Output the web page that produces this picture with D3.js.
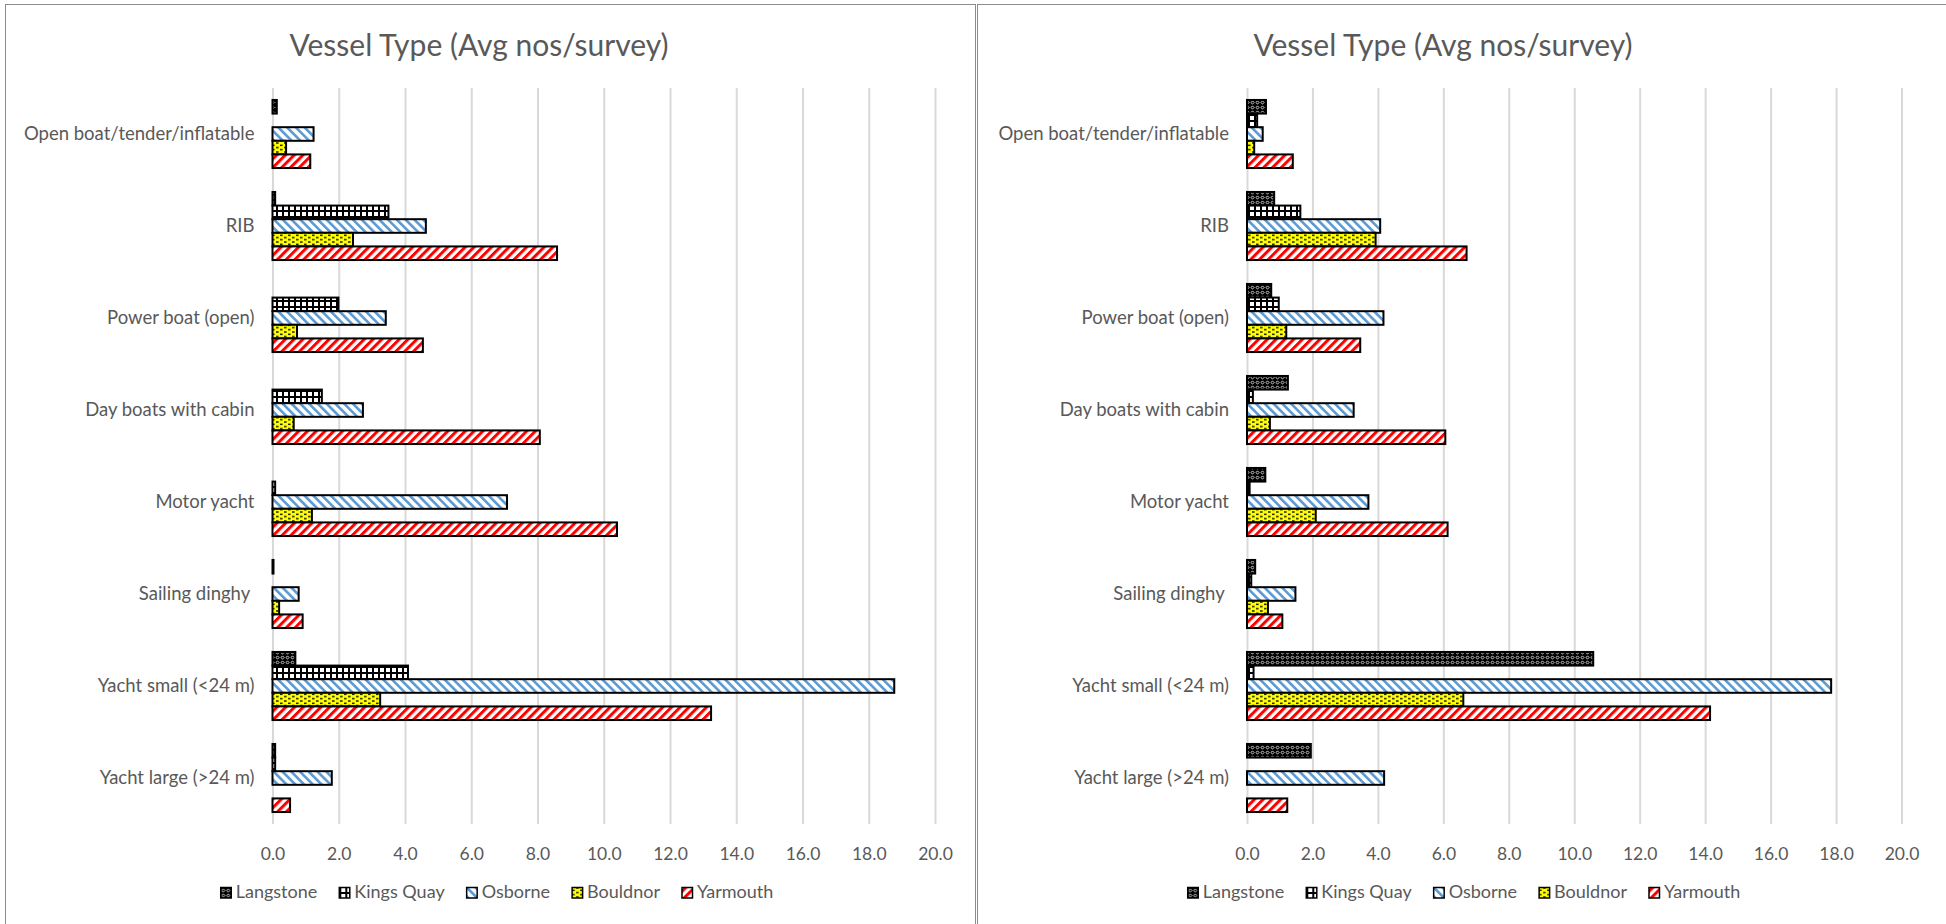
<!DOCTYPE html>
<html lang="en">
<head>
  <meta charset="UTF-8" />
  <title>Vessel Type (Avg nos/survey)</title>
  <style>
    body { margin: 0; background: #ffffff; }
    svg { display: block; }
    .title { font-family: Lato, sans-serif; font-size: 30px; fill: #595959; }
    .cat { font-family: Lato, sans-serif; font-size: 18.5px; fill: #595959; white-space: pre; }
    .tick text { font-family: Lato, sans-serif; font-size: 17.5px; fill: #595959; }
    .tick line { stroke: #d9d9d9; stroke-width: 2px; }
    .legend { font-family: Lato, sans-serif; font-size: 18px; fill: #595959; }
    .bar { stroke: #000; stroke-width: 2px; }
  </style>
  <script src="https://d3js.org/d3.v7.min.js"></script>
</head>
<body>
  <svg id="canvas" width="1946" height="924"></svg>
  <script>
    const categories = ["Open boat/tender/inflatable", "RIB", "Power boat (open)", "Day boats with cabin",
      "Motor yacht", "Sailing dinghy ", "Yacht small (<24 m)", "Yacht large (>24 m)"];
    const seriesNames = ["Langstone", "Kings Quay", "Osborne", "Bouldnor", "Yarmouth"];
    const xTicks = [0, 2, 4, 6, 8, 10, 12, 14, 16, 18, 20];

    // left chart, one array per series (category order as above)
    const leftLangstone = [0.13, 0.08, 0, 0, 0, 0.03, 0.69, 0.08];
    const leftKingsQuay = [0, 3.5, 1.99, 1.49, 0.08, 0, 4.09, 0.08];
    const leftOsborne = [1.24, 4.63, 3.42, 2.73, 7.08, 0.79, 18.77, 1.79];
    const leftBouldnor = [0.41, 2.43, 0.74, 0.64, 1.19, 0.2, 3.25, 0];
    const leftYarmouth = [1.14, 8.59, 4.54, 8.07, 10.4, 0.91, 13.24, 0.53];

    // right chart
    const rightLangstone = [0.58, 0.83, 0.74, 1.25, 0.56, 0.25, 10.58, 1.95];
    const rightKingsQuay = [0.31, 1.63, 0.97, 0.18, 0.08, 0.13, 0.2, 0];
    const rightOsborne = [0.48, 4.07, 4.17, 3.26, 3.71, 1.48, 17.85, 4.19];
    const rightBouldnor = [0.22, 3.93, 1.2, 0.7, 2.1, 0.64, 6.61, 0];
    const rightYarmouth = [1.4, 6.71, 3.46, 6.06, 6.13, 1.08, 14.15, 1.23];

    const svg = d3.select("#canvas");
    const defs = svg.append("defs");

    // Excel-like pattern fills
    const pLang = defs.append("pattern").attr("id", "p0")
      .attr("patternUnits", "userSpaceOnUse").attr("width", 5).attr("height", 5);
    pLang.append("rect").attr("width", 5).attr("height", 5).attr("fill", "#000");
    pLang.append("path").attr("d", "M2.5,0.9L4.1,2.5L2.5,4.1L0.9,2.5Z")
      .attr("fill", "none").attr("stroke", "#fff").attr("stroke-width", 0.8);

    const pKq = defs.append("pattern").attr("id", "p1")
      .attr("patternUnits", "userSpaceOnUse").attr("width", 6).attr("height", 6);
    pKq.append("rect").attr("width", 6).attr("height", 6).attr("fill", "#000");
    pKq.append("rect").attr("x", 2).attr("y", 2).attr("width", 4).attr("height", 4).attr("fill", "#fff");

    const pOsb = defs.append("pattern").attr("id", "p2")
      .attr("patternUnits", "userSpaceOnUse").attr("width", 6.2).attr("height", 10)
      .attr("patternTransform", "rotate(-45)");
    pOsb.append("rect").attr("width", 6.2).attr("height", 10).attr("fill", "#fff");
    pOsb.append("rect").attr("width", 2.6).attr("height", 10).attr("fill", "#5b9bd5");

    const pBou = defs.append("pattern").attr("id", "p3")
      .attr("patternUnits", "userSpaceOnUse").attr("width", 8).attr("height", 4.5);
    pBou.append("rect").attr("width", 8).attr("height", 4.5).attr("fill", "#ffff00");
    pBou.append("rect").attr("x", 0).attr("y", 0.6).attr("width", 2.6).attr("height", 1.3).attr("fill", "#000");
    pBou.append("rect").attr("x", 4).attr("y", 2.9).attr("width", 2.6).attr("height", 1.3).attr("fill", "#000");

    const pYar = defs.append("pattern").attr("id", "p4")
      .attr("patternUnits", "userSpaceOnUse").attr("width", 6.2).attr("height", 10)
      .attr("patternTransform", "rotate(45)");
    pYar.append("rect").attr("width", 6.2).attr("height", 10).attr("fill", "#fff");
    pYar.append("rect").attr("width", 3).attr("height", 10).attr("fill", "#ff0000");

    const fills = ["url(#p0)", "url(#p1)", "url(#p2)", "url(#p3)", "url(#p4)"];

    // panel borders
    svg.append("rect").attr("x", 5.5).attr("y", 4.5).attr("width", 970).attr("height", 960)
      .attr("fill", "none").attr("stroke", "#8c8c8c");
    svg.append("rect").attr("x", 977.5).attr("y", 4.5).attr("width", 1000).attr("height", 960)
      .attr("fill", "none").attr("stroke", "#8c8c8c");

    function drawChart(cfg, values) {
      const g = svg.append("g");
      const x = d3.scaleLinear().domain([0, 20]).range([cfg.x0, cfg.x1]);
      const y = d3.scaleBand().domain(categories).range([88, 824])
        .paddingInner(0.26).paddingOuter(0.13);
      const ySub = d3.scaleBand().domain(seriesNames).range([0, y.bandwidth()]);

      g.append("text").attr("class", "title")
        .attr("x", cfg.center).attr("y", 56)
        .attr("text-anchor", "middle")
        .text("Vessel Type (Avg nos/survey)");

      // gridlines + tick labels
      const axis = g.append("g").attr("transform", "translate(0,824)")
        .call(d3.axisBottom(x).tickValues(xTicks).tickSize(-736).tickPadding(24)
          .tickFormat(d3.format(".1f")));
      axis.select(".domain").remove();

      // category labels
      g.selectAll(".cat").data(categories).enter().append("text")
        .attr("class", "cat")
        .attr("x", cfg.x0 - 18)
        .attr("y", d => y(d) + y.bandwidth() / 2)
        .attr("dy", "0.35em")
        .attr("text-anchor", "end")
        .text(d => d);

      // bars
      seriesNames.forEach((s, si) => {
        g.selectAll(".bar-" + si).data(values[si]).enter().append("rect")
          .attr("class", "bar bar-" + si)
          .attr("x", x(0))
          .attr("y", (d, i) => y(categories[i]) + ySub(s))
          .attr("width", d => x(d) - x(0))
          .attr("height", ySub.bandwidth())
          .attr("fill", fills[si])
          .style("display", d => d > 0 ? null : "none");
      });

      // legend
      const lg = g.append("g");
      let cx = 0;
      seriesNames.forEach((s, si) => {
        const item = lg.append("g").attr("transform", `translate(${cx},0)`);
        item.append("rect").attr("x", 0).attr("y", -10.5).attr("width", 10.5).attr("height", 10.5)
          .attr("fill", fills[si]).attr("stroke", "#000").attr("stroke-width", 1.5);
        const t = item.append("text").attr("class", "legend").attr("x", 15).attr("y", 0).text(s);
        cx += 15 + t.node().getComputedTextLength() + 22;
      });
      const total = cx - 22;
      lg.attr("transform", `translate(${cfg.legendCenter - total / 2},898)`);
    }

    drawChart({ x0: 272.5, x1: 935, center: 479, legendCenter: 497 },
      [leftLangstone, leftKingsQuay, leftOsborne, leftBouldnor, leftYarmouth]);
    drawChart({ x0: 1247, x1: 1901.5, center: 1443, legendCenter: 1464 },
      [rightLangstone, rightKingsQuay, rightOsborne, rightBouldnor, rightYarmouth]);
  </script>
</body>
</html>
